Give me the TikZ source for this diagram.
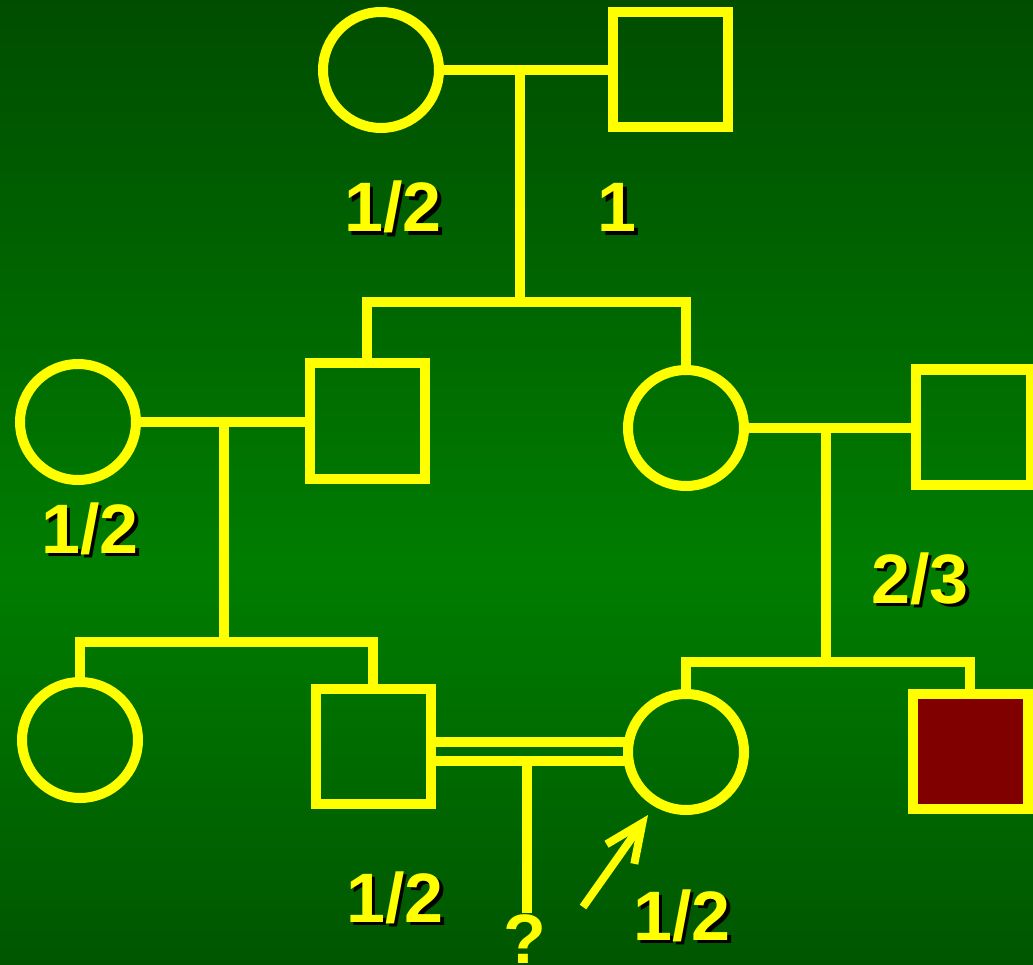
\documentclass[tikz,border=0pt]{standalone}
\usepackage{fontspec}
\setmainfont{Liberation Sans}
\usetikzlibrary{arrows.meta}
\definecolor{bgtop}{HTML}{004D00}
\definecolor{bgmid}{HTML}{007D00}
\definecolor{bgbot}{HTML}{005600}
\definecolor{pyel}{HTML}{FFFF00}
\definecolor{affected}{HTML}{800000}
\pgfdeclareverticalshading{bgshade}{100bp}{color(0bp)=(bgbot); color(25bp)=(bgbot); color(45.5bp)=(bgmid); color(75bp)=(bgtop); color(100bp)=(bgtop)}
\tikzset{
  fem/.style={circle, draw=pyel, line width=10pt, minimum size=116pt, inner sep=0pt, outer sep=0pt},
  mal/.style={rectangle, draw=pyel, line width=10pt, minimum size=115pt, inner sep=0pt, outer sep=0pt},
  aff/.style={mal, fill=affected},
  link/.style={draw=pyel, line width=10pt, line join=miter},
  lbl/.style={text=pyel, font=\bfseries\fontsize{70}{70}\selectfont, inner sep=0pt, anchor=base},
  shd/.style={text=black, font=\bfseries\fontsize{70}{70}\selectfont, inner sep=0pt, anchor=base},
}
\newcommand{\shlabel}[3]{%
  \node[shd] (#1s) at ($(#2)+(3.5,3.5)$) {#3};
  \node[lbl] (#1) at (#2) {#3};}
\usetikzlibrary{calc}
\begin{document}
\begin{tikzpicture}[x=1pt,y=-1pt]
\useasboundingbox (0,0) rectangle (1033,965);
\shade[shading=bgshade] (0,0) rectangle (1033,965);

% generation 1
\node[fem] (c1) at (381,70) {};
\node[mal] (s1) at (670,70) {};
% generation 2
\node[fem] (c2) at (78,422) {};
\node[mal] (s2) at (367,421) {};
\node[fem] (c3) at (686,428) {};
\node[mal] (s3) at (973,427) {};
% generation 3
\node[fem] (c4) at (80,740) {};
\node[mal] (s4) at (373,746) {};
\node[fem] (c5) at (686,752) {};
\node[aff] (s5) at (970,751) {};

\coordinate (m1) at (520,70);
\coordinate (j1) at (520,302);
\coordinate (m2) at (224,422);
\coordinate (j2) at (224,642);
\coordinate (m3) at (826,428);
\coordinate (j3) at (826,662);
\coordinate (m4) at (527,760.5);
\coordinate (q) at (527,913);

% connectors
\path[link] (c1.east) -- (s1.west);
\path[link] (m1) -- (j1);
\path[link] (s2.north) -- (s2.north |- j1) -- (c3.north |- j1) -- (c3.north);

\path[link] (c2.east) -- (c2.east -| s2.west);
\path[link] (m2) -- (j2);
\path[link] (c4.north) -- (c4.north |- j2) -- (s4.north |- j2) -- (s4.north);

\path[link] (c3.east) -- (c3.east -| s3.west);
\path[link] (m3) -- (j3);
\path[link] (c5.north) -- (c5.north |- j3) -- (s5.north |- j3) -- (s5.north);

% consanguineous double line
\path[link] (s4.east |- 0,741.5) -- (c5.west |- 0,741.5);
\path[link] (s4.east |- m4) -- (c5.west |- m4);
\path[link] (m4) -- (q);

% proband arrow
\coordinate (at) at (583,907);
\coordinate (ah) at (648,815);
\draw[draw=pyel, line width=8pt, -{Straight Barb[length=38pt,width=34pt]}] (at) -- (ah);

% labels
\shlabel{l1}{393,232}{1/2}
\shlabel{l2}{617,232}{1}
\shlabel{l3}{90,553}{1/2}
\shlabel{l4}{920,603}{2/3}
\shlabel{l5}{395,922}{1/2}
\shlabel{l6}{682,940}{1/2}
\node[lbl] (qm) at (525,963) {?};
\end{tikzpicture}
\end{document}
